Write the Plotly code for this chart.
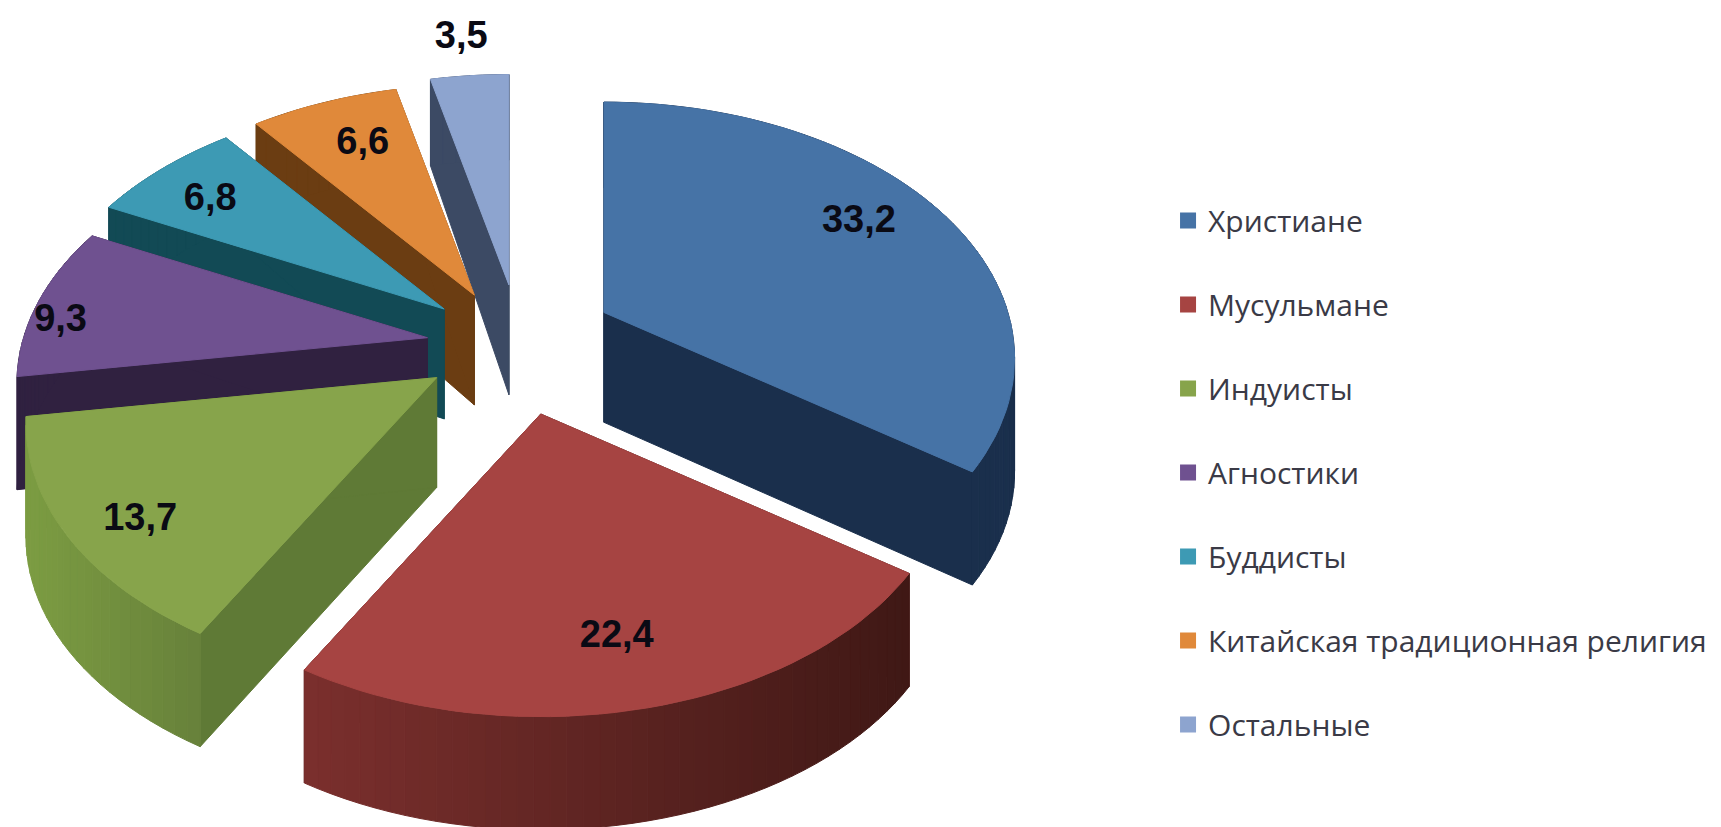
import math
import plotly.graph_objects as go

# Data
categories = ["Христиане", "Мусульмане", "Индуисты", "Агностики", "Буддисты",
              "Китайская традиционная религия", "Остальные"]
values = [33.2, 22.4, 13.7, 9.3, 6.8, 6.6, 3.5]
labels = ["33,2", "22,4", "13,7", "9,3", "6,8", "6,6", "3,5"]

# Style
top_colors = ["#4673A6", "#A64442", "#87A44B", "#6F5190", "#3D9AB4", "#E0893A", "#8DA4CF"]
radial_colors = ["#1A2F4C", "#4A1C1A", "#5F7A36", "#302140", "#124A55", "#6B3D12", "#3C4A64"]
arc_left = ["#1A2F4C", "#7A2F2D", "#7C9C42", "#302140", "#124A55", "#6B3D12", "#3C4A64"]
arc_right = ["#1A2F4C", "#3F1815", "#66803A", "#302140", "#124A55", "#6B3D12", "#3C4A64"]
pulls = [0.27, 0.28, 0.22, 0.22, 0.22, 0.22, 0.23]
nudge_x = [-2, 3, 0, 3, 0, 0, 7]
nudge_y = [0, 0, 3, 3, 0, 0, -3]
label_r = [0.80, 0.73, 0.83, 0.95, 0.80, 0.75, 1.10]
label_dx = [-9, -2, 10, 2, -8, 1, -4]
label_dy = [-5, 8, 11, 17, 4, -6, -15]
draw_order = [6, 5, 4, 3, 0, 2, 1]

# Projection of the pie plane (screen units of the 1568x753 view)
CX, CY = 466, 312
RX, RY, K = 368, 226, 0.18


def project(x, y):
    w = 1 + K * y
    return RX * x / w, -RY * y / w


def depth(y):
    return 103 - 25 * max(y, 0)


def mix(a, b, t):
    ca = [int(a[i:i + 2], 16) for i in (1, 3, 5)]
    cb = [int(b[i:i + 2], 16) for i in (1, 3, 5)]
    return "rgb(%d,%d,%d)" % tuple(round(p + (q - p) * t) for p, q in zip(ca, cb))


def poly(fig, xs, ys, color):
    fig.add_trace(go.Scatter(x=xs + xs[:1], y=ys + ys[:1], mode="lines", fill="toself",
                             fillcolor=color, line=dict(color=color, width=1),
                             showlegend=False, hoverinfo="skip"))


total = sum(values)
spans = []
acc = 0.0
for v in values:
    a0 = acc / total * 2 * math.pi
    acc += v
    spans.append((a0, acc / total * 2 * math.pi))

fig = go.Figure()
label_pos = {}
for i in draw_order:
    a0, a1 = spans[i]
    mid = (a0 + a1) / 2
    px, py = project(pulls[i] * math.sin(mid), pulls[i] * math.cos(mid))
    ax, ay = CX + px + nudge_x[i], CY + py + nudge_y[i]
    n = max(6, int((a1 - a0) * 30))
    pts = []
    for j in range(n + 1):
        t = a0 + (a1 - a0) * j / n
        sx, sy = project(math.sin(t), math.cos(t))
        pts.append((ax + sx, ay + sy, depth(math.cos(t))))
    # radial walls
    for p in (pts[0], pts[-1]):
        poly(fig, [ax, p[0], p[0], ax], [ay, p[1], p[1] + p[2], ay + 100], radial_colors[i])
    # outer wall, shaded from left to right
    xmin = min(a[0] for a in pts)
    xmax = max(a[0] for a in pts)
    for j in range(n):
        p, q = pts[j], pts[j + 1]
        t = (min(p[0], q[0]) - xmin) / (xmax - xmin)
        poly(fig, [p[0], q[0], q[0], p[0]], [p[1], q[1], q[1] + q[2], p[1] + p[2]],
             mix(arc_left[i], arc_right[i], t))
    # top face
    poly(fig, [ax] + [p[0] for p in pts], [ay] + [p[1] for p in pts], top_colors[i])
    lx, ly = project(math.sin(mid), math.cos(mid))
    label_pos[i] = (ax + label_r[i] * lx + label_dx[i], ay + label_r[i] * ly + label_dy[i])

# Legend entries
for i, c in enumerate(categories):
    fig.add_trace(go.Scatter(x=[None], y=[None], mode="markers", name=c, legendgroup=c,
                             marker=dict(symbol="square", size=18, color=top_colors[i])))

# Value labels
fig.add_trace(go.Scatter(x=[label_pos[i][0] for i in range(7)],
                         y=[label_pos[i][1] for i in range(7)],
                         mode="text", text=labels, showlegend=False, hoverinfo="skip",
                         textposition="middle center",
                         textfont=dict(family="Liberation Sans", size=38,
                                       color="#0A0A14", weight="bold")))

fig.update_layout(
    width=1721, height=827, margin=dict(l=0, r=0, t=0, b=0, pad=0),
    paper_bgcolor="white", plot_bgcolor="white",
    xaxis=dict(range=[0, 1568], visible=False, fixedrange=True),
    yaxis=dict(range=[753, 0], visible=False, fixedrange=True),
    legend=dict(x=0.6787, y=0.7647, xanchor="left", yanchor="top", tracegroupgap=42,
                itemsizing="trace", bgcolor="rgba(0,0,0,0)",
                font=dict(family="Open Sans", size=30, color="#3A3A46")),
)
fig.write_html("out.html", post_script="document.body.style.margin='0';",
               config=dict(displayModeBar=False))
